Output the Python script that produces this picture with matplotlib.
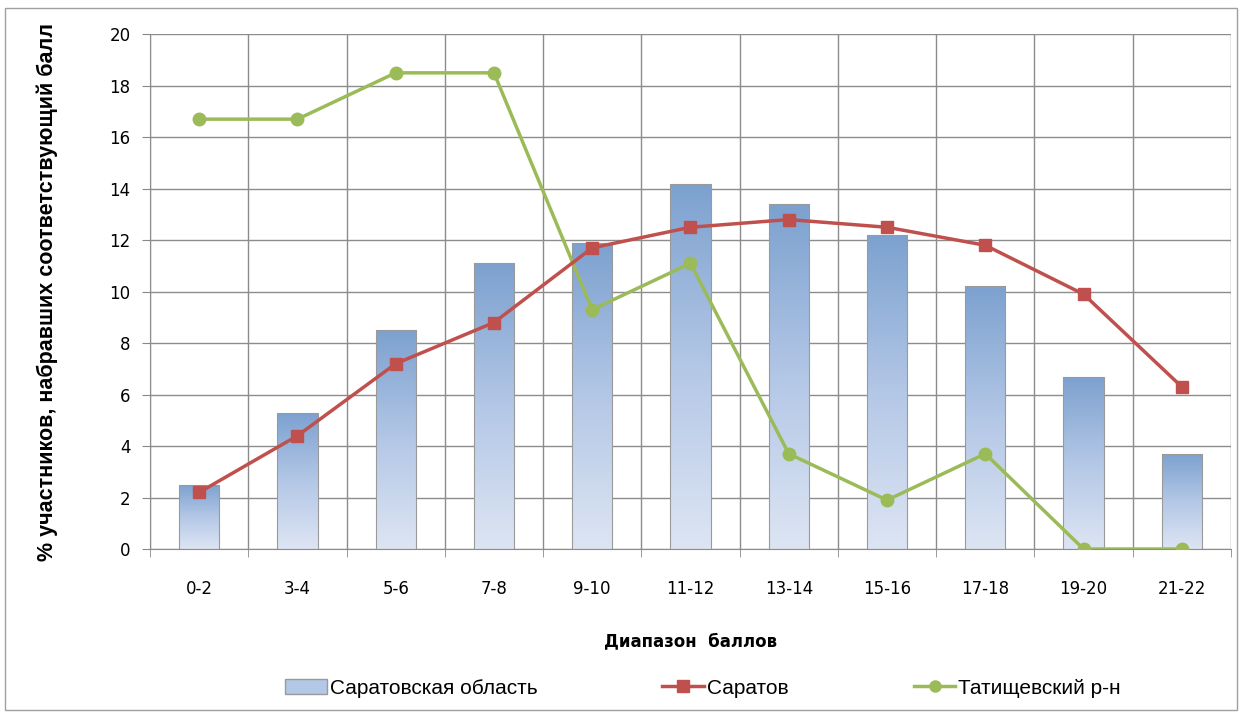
import matplotlib.pyplot as plt
import numpy as np
from matplotlib.colors import LinearSegmentedColormap
from matplotlib.lines import Line2D
from matplotlib.patches import Rectangle

categories = ['0-2', '3-4', '5-6', '7-8', '9-10', '11-12', '13-14', '15-16', '17-18', '19-20', '21-22']
oblast = [2.5, 5.3, 8.5, 11.1, 11.9, 14.2, 13.4, 12.2, 10.2, 6.7, 3.7]
saratov = [2.2, 4.4, 7.2, 8.8, 11.7, 12.5, 12.8, 12.5, 11.8, 9.9, 6.3]
tatishchevo = [16.7, 16.7, 18.5, 18.5, 9.3, 11.1, 3.7, 1.9, 3.7, 0, 0]

fig = plt.figure(figsize=(12.42, 7.13), dpi=100)
ax = fig.add_axes([0.1208, 0.230, 0.8703, 0.722])

x = np.arange(len(categories))
bars = ax.bar(x, oblast, width=0.41, facecolor='none', edgecolor='#9a9a9a', linewidth=0.8, zorder=3)

# vertical gradient inside every bar
cmap = LinearSegmentedColormap.from_list('bar', ['#dde5f3', '#b3c7e6', '#7ca1cf'])
grad = np.linspace(0, 1, 256).reshape(-1, 1)
for b in bars:
    bx, by = b.get_x(), b.get_y()
    w, h = b.get_width(), b.get_height()
    im = ax.imshow(grad, cmap=cmap, aspect='auto', origin='lower',
                   extent=(bx, bx + w, by, by + h), zorder=2)
    im.set_clip_path(b)

ax.plot(x, saratov, color='#c0504d', lw=2.5, marker='s', ms=9, zorder=5)
ax.plot(x, tatishchevo, color='#9bbb59', lw=2.5, marker='o', ms=9, zorder=4)

ax.set_xlim(-0.5, len(categories) - 0.5)
ax.set_ylim(0, 20)
ax.set_yticks(range(0, 21, 2))
ax.set_xticks(x)
ax.set_xticklabels(categories)
ax.set_xticks(np.arange(-0.5, len(categories), 1), minor=True)
ax.tick_params(axis='x', which='major', length=0, pad=22, labelsize=12)
ax.tick_params(axis='x', which='minor', length=6, color='#888888')
ax.tick_params(axis='y', length=6, color='#888888', labelsize=12, pad=8)
ax.grid(True, axis='y', color='#8c8c8c', lw=1)
ax.grid(True, axis='x', which='minor', color='#8c8c8c', lw=1)
ax.set_axisbelow(True)
for side in ['top', 'right']:
    ax.spines[side].set_visible(False)
for side in ['left', 'bottom']:
    ax.spines[side].set_color('#8c8c8c')

ax.set_ylabel('% участников, набравших соответствующий балл', family='Liberation Sans',
              fontsize=15.5, fontweight='bold', labelpad=37)
ax.set_xlabel('Диапазон  баллов', fontsize=12, fontweight='bold', labelpad=25)

handles = [
    Rectangle((0, 0), 1, 1, facecolor='#b3c7e6', edgecolor='#9a9a9a'),
    Line2D([], [], color='#c0504d', lw=2.5, marker='s', ms=8),
    Line2D([], [], color='#9bbb59', lw=2.5, marker='o', ms=8),
]
fig.legend(handles, ['Саратовская область', 'Саратов', 'Татищевский р-н'],
           loc='center', bbox_to_anchor=(0.566, 0.035), ncol=3, frameon=False,
           prop={'family': 'Liberation Sans', 'size': 15}, columnspacing=6.0,
           handlelength=2.0, handletextpad=0.15)

fig.add_artist(Rectangle((0.004, 0.004), 0.992, 0.985, transform=fig.transFigure,
                         fill=False, edgecolor='#a0a0a0', lw=1))

fig.savefig('out.png', dpi=100)
